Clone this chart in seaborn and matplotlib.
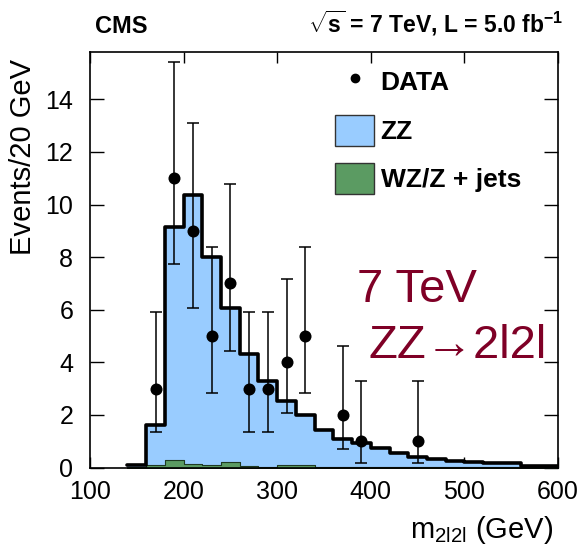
import numpy as np
import pandas as pd
import matplotlib
matplotlib.use("Agg")
import matplotlib.pyplot as plt
import seaborn as sns
from matplotlib.lines import Line2D
from matplotlib.patches import Patch

# ---------------- data ----------------
bin_edges = [140, 160, 180, 200, 220, 240, 260, 280, 300, 320, 340, 360, 380,
             400, 420, 440, 460, 480, 500, 520, 540, 560, 580, 600]
zz = [0.08, 1.54, 8.85, 10.20, 7.90, 5.85, 4.25, 3.28, 2.43, 1.90, 1.41, 1.09,
      0.94, 0.72, 0.53, 0.40, 0.32, 0.25, 0.20, 0.18, 0.15, 0.05, 0.04]
wz = [0.02, 0.08, 0.30, 0.15, 0.10, 0.20, 0.05, 0.02, 0.10, 0.10, 0.02, 0.01,
      0.01, 0.01, 0.01, 0.01, 0.01, 0.01, 0.01, 0.01, 0.01, 0.01, 0.01]
data_x = [170, 190, 210, 230, 250, 270, 290, 310, 330, 370, 390, 450]
data_n = [3, 11, 9, 5, 7, 3, 3, 4, 5, 2, 1, 1]
err_low = [1.63, 3.26, 2.94, 2.16, 2.58, 1.63, 1.63, 1.91, 2.16, 1.29, 0.83, 0.83]
err_high = [2.92, 4.42, 4.11, 3.38, 3.77, 2.92, 2.92, 3.16, 3.38, 2.64, 2.30, 2.30]
x_ticks = [100, 200, 300, 400, 500, 600]
y_ticks = [0, 2, 4, 6, 8, 10, 12, 14]
legend_labels = ["DATA", "ZZ", "WZ/Z + jets"]

blue = "#99ccff"
green = "#5b9b62"
dark_red = "#7f0026"

# ---------------- style ----------------
sns.set_style("ticks")
plt.rcParams["font.family"] = ["Liberation Sans", "DejaVu Sans"]
plt.rcParams["mathtext.fontset"] = "custom"
plt.rcParams["mathtext.rm"] = "Liberation Sans"
plt.rcParams["mathtext.bf"] = "Liberation Sans:bold"
plt.rcParams["mathtext.it"] = "Liberation Sans:italic"
for key in ["text.color", "axes.labelcolor", "xtick.color", "ytick.color",
            "axes.edgecolor"]:
    plt.rcParams[key] = "black"

W, H = 578, 549
fig = plt.figure(figsize=(W / 100, H / 100), dpi=100)
ax = fig.add_axes([90 / W, 1 - 467.6 / H, 468 / W, 415.6 / H])

centers = np.array(bin_edges[:-1]) + 10
df = pd.DataFrame({"m": centers,
                   "total": np.array(zz) + np.array(wz),
                   "wz": wz})

sns.histplot(data=df, x="m", weights="total", bins=bin_edges, element="step",
             fill=True, color=blue, alpha=1, linewidth=0, ax=ax)
sns.histplot(data=df, x="m", weights="wz", bins=bin_edges, element="step",
             fill=True, color=green, alpha=1, edgecolor="#1e3a22",
             linewidth=0.8, ax=ax)
sns.histplot(data=df, x="m", weights="total", bins=bin_edges, element="step",
             fill=False, color="black", linewidth=2.6, ax=ax)

ax.errorbar(data_x, data_n, yerr=[err_low, err_high], fmt="none",
            ecolor="black", elinewidth=1.1, capsize=4, capthick=1.1, zorder=4)
sns.scatterplot(x=data_x, y=data_n, color="black", s=75, edgecolor="black",
                linewidth=0, ax=ax, zorder=5)

ax.set_xlim(100, 600)
ax.set_ylim(0, 15.8)
ax.set_xticks(x_ticks)
ax.set_yticks(y_ticks)
ax.set_xlabel("")
ax.set_ylabel("")
ax.tick_params(axis="both", direction="in", top=True, right=True,
               labelsize=18, width=1.0, color="black", labelcolor="black")
ax.tick_params(axis="y", length=10, pad=12)
ax.tick_params(axis="x", length=8, pad=9)
for s in ax.spines.values():
    s.set_visible(True)
    s.set_color("black")
    s.set_linewidth(1.2)

handles = [Line2D([], [], marker="o", ls="none", color="black", markersize=6),
           Patch(facecolor=blue, edgecolor="#333333", linewidth=1),
           Patch(facecolor=green, edgecolor="#333333", linewidth=1)]
ax.legend(handles, legend_labels, loc="upper left",
          bbox_to_anchor=((335 - 90) / 468, (467.6 - 66) / 415.6),
          frameon=False, prop={"weight": "bold", "size": 19},
          handlelength=1.48, handleheight=1.44, labelspacing=0.66,
          handletextpad=0.25, borderpad=0, borderaxespad=0, labelcolor="black")

# ---------------- texts ----------------
fig.text(95 / W, 1 - 33 / H, "CMS", fontsize=17, fontweight="bold",
         ha="left", va="baseline")
fig.text(563 / W, 1 - 33 / H,
         r"$\mathbf{\sqrt{s}}$ = 7 TeV, L = 5.0 fb$^{\mathbf{-1}}$",
         fontsize=16.5, fontweight="bold", ha="right", va="baseline")
fig.text(23 / W, 1 - 157 / H, "Events/20 GeV", fontsize=21, rotation=90,
         ha="center", va="center")
fig.text(553 / W, 1 - 538 / H, r"m$_{\mathrm{2l2l}}$ (GeV)", fontsize=21,
         ha="right", va="baseline")
fig.text(357 / W, 1 - 301.7 / H, "7 TeV", fontsize=34, color=dark_red,
         ha="left", va="baseline")
fig.text(368 / W, 1 - 358 / H, "ZZ\u21922l2l", fontsize=34, color=dark_red,
         ha="left", va="baseline",
         family=["Liberation Sans", "DejaVu Sans"])

fig.savefig("out.png", dpi=100)
